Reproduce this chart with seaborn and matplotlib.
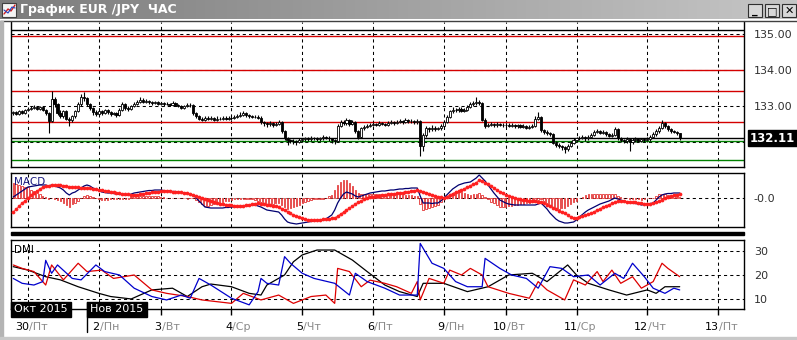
import numpy as np
import pandas as pd
import matplotlib
matplotlib.use("Agg")
import matplotlib.pyplot as plt
import seaborn as sns
from matplotlib.patches import Rectangle
from matplotlib.lines import Line2D
from matplotlib.colors import LinearSegmentedColormap

# ------------------------------------------------------------------ data
title = "График EUR /JPY  ЧАС"
day_start_bar = [5, 29, 50, 74, 98, 122, 146, 167, 191, 215, 239]
day_num = ["30", "2", "3", "4", "5", "6", "9", "10", "11", "12", "13"]
day_name = ["Пт", "Пн", "Вт", "Ср", "Чт", "Пт", "Пн", "Вт", "Ср", "Чт", "Пт"]
month_labels = ["Окт 2015", "Нов 2015"]

first_open = 132.80
close = [
    132.82, 132.78, 132.85, 132.80, 132.88,
    132.92, 132.95, 132.98, 132.93, 132.97, 132.90, 132.80, 132.58, 133.20, 133.05,
    132.80, 132.72, 132.85, 132.65, 132.60, 132.72, 132.85, 133.05, 133.25, 133.22,
    133.05, 132.95, 132.82, 132.78,
    132.85, 132.80, 132.88, 132.82, 132.78, 132.80, 132.76, 132.90, 133.05, 132.95,
    132.92, 133.00, 133.05, 133.12, 133.18, 133.12, 133.15, 133.10, 133.08, 133.10, 133.06,
    133.08, 133.05, 133.06, 133.04, 133.08, 133.02, 133.00, 132.95, 133.00, 133.04,
    133.02, 132.80, 132.72, 132.65, 132.62, 132.66, 132.64, 132.66, 132.62, 132.65,
    132.64, 132.66, 132.65, 132.68,
    132.66, 132.70, 132.72, 132.75, 132.80, 132.74, 132.72, 132.70, 132.70, 132.68,
    132.55, 132.52, 132.50, 132.52, 132.48, 132.50, 132.55, 132.30, 132.12, 132.05,
    132.03, 132.02, 132.00, 132.05,
    132.08, 132.10, 132.08, 132.12, 132.10, 132.08, 132.10, 132.14, 132.12, 132.10,
    132.05, 132.02, 132.45, 132.55, 132.52, 132.60, 132.50, 132.55, 132.30, 132.15,
    132.38, 132.42, 132.45, 132.48,
    132.50, 132.48, 132.52, 132.50, 132.48, 132.52, 132.55, 132.52, 132.56, 132.58,
    132.55, 132.60, 132.57, 132.58, 132.55, 132.58, 131.88, 132.20, 132.38, 132.35,
    132.40, 132.36, 132.38, 132.45,
    132.55, 132.70, 132.85, 132.90, 132.88, 132.92, 132.86, 132.90, 132.98, 133.05,
    133.08, 133.12, 133.08, 132.62, 132.45, 132.48, 132.50, 132.47, 132.50, 132.48,
    132.46,
    132.48, 132.45, 132.47, 132.44, 132.46, 132.42, 132.44, 132.40, 132.42, 132.45,
    132.65, 132.70, 132.32, 132.28, 132.25, 132.22, 131.98, 131.92, 131.88, 131.85,
    131.80, 131.90, 131.98, 132.05,
    132.10, 132.12, 132.15, 132.10, 132.14, 132.20, 132.28, 132.30, 132.25, 132.28,
    132.22, 132.18, 132.20, 132.35, 132.10, 132.05, 132.02, 132.08, 132.00, 132.05,
    132.08, 132.04, 132.07, 132.06,
    132.08, 132.15, 132.22, 132.30, 132.38, 132.52, 132.45, 132.35, 132.30, 132.28,
    132.24, 132.11,
]
high = [
    132.86, 132.85, 132.89, 132.88, 132.92,
    132.96, 132.99, 133.02, 133.01, 133.00, 132.99, 132.93, 132.83, 133.41, 133.25,
    133.08, 132.88, 132.90, 132.88, 132.70, 132.76, 132.90, 133.10, 133.32, 133.39,
    133.26, 133.08, 132.98, 132.88,
    132.90, 132.88, 132.92, 132.91, 132.85, 132.84, 132.84, 132.94, 133.10, 133.08,
    133.00, 133.04, 133.10, 133.18, 133.24, 133.21, 133.19, 133.18, 133.13, 133.14, 133.13,
    133.12, 133.11, 133.10, 133.09, 133.13, 133.10, 133.05, 133.03, 133.04, 133.09,
    133.08, 133.05, 132.83, 132.76, 132.70, 132.72, 132.71, 132.72, 132.70, 132.71,
    132.70, 132.72, 132.71, 132.73,
    132.72, 132.75, 132.77, 132.82, 132.86, 132.83, 132.78, 132.76, 132.75, 132.74,
    132.71, 132.59, 132.56, 132.57, 132.56, 132.56, 132.60, 132.58, 132.33, 132.15,
    132.09, 132.08, 132.06, 132.10,
    132.12, 132.14, 132.13, 132.16, 132.15, 132.13, 132.15, 132.19, 132.17, 132.16,
    132.12, 132.08, 132.50, 132.62, 132.60, 132.67, 132.64, 132.61, 132.58, 132.33,
    132.42, 132.47, 132.50, 132.53,
    132.55, 132.54, 132.57, 132.55, 132.54, 132.58, 132.60, 132.58, 132.62, 132.64,
    132.62, 132.66, 132.64, 132.64, 132.62, 132.64, 132.62, 132.26, 132.44, 132.43,
    132.46, 132.44, 132.43, 132.50,
    132.60, 132.76, 132.90, 132.96, 132.95, 132.98, 132.96, 132.95, 133.04, 133.12,
    133.15, 133.24, 133.18, 133.10, 132.66, 132.54, 132.55, 132.54, 132.55, 132.54,
    132.52,
    132.53, 132.52, 132.52, 132.51, 132.51, 132.49, 132.49, 132.47, 132.47, 132.50,
    132.71, 132.83, 132.73, 132.36, 132.32, 132.29, 132.25, 132.02, 131.96, 131.92,
    131.89, 131.95, 132.03, 132.10,
    132.15, 132.17, 132.20, 132.18, 132.19, 132.25, 132.33, 132.36, 132.33, 132.33,
    132.31, 132.25, 132.26, 132.42, 132.38, 132.14, 132.09, 132.14, 132.12, 132.10,
    132.13, 132.11, 132.12, 132.11,
    132.13, 132.20, 132.27, 132.35, 132.44, 132.62, 132.56, 132.48, 132.38, 132.34,
    132.31, 132.26,
]
low = [
    132.76, 132.74, 132.75, 132.77, 132.78,
    132.86, 132.89, 132.92, 132.90, 132.90, 132.86, 132.76, 132.25, 132.55, 132.98,
    132.74, 132.66, 132.68, 132.60, 132.44, 132.56, 132.68, 132.82, 133.00, 133.15,
    133.00, 132.88, 132.76, 132.72,
    132.74, 132.76, 132.77, 132.78, 132.72, 132.74, 132.70, 132.72, 132.86, 132.90,
    132.86, 132.88, 132.96, 133.02, 133.08, 133.08, 133.09, 133.06, 133.04, 133.05, 133.02,
    133.03, 133.01, 133.02, 133.00, 133.01, 132.99, 132.96, 132.92, 132.92, 132.97,
    132.98, 132.76, 132.66, 132.60, 132.58, 132.58, 132.60, 132.60, 132.58, 132.59,
    132.60, 132.61, 132.61, 132.62,
    132.62, 132.63, 132.67, 132.69, 132.72, 132.70, 132.68, 132.66, 132.66, 132.64,
    132.51, 132.44, 132.43, 132.45, 132.43, 132.44, 132.46, 132.26, 132.06, 131.93,
    131.97, 131.95, 131.93, 131.96,
    132.01, 132.04, 132.03, 132.04, 132.05, 132.03, 132.04, 132.06, 132.07, 132.04,
    131.98, 131.95, 132.00, 132.42, 132.46, 132.48, 132.45, 132.46, 132.24, 132.08,
    132.12, 132.34, 132.38, 132.41,
    132.44, 132.44, 132.45, 132.46, 132.44, 132.45, 132.49, 132.48, 132.49, 132.52,
    132.51, 132.52, 132.53, 132.53, 132.50, 132.50, 131.60, 131.76, 132.15, 132.28,
    132.30, 132.31, 132.32, 132.34,
    132.41, 132.52, 132.67, 132.80, 132.83, 132.84, 132.82, 132.82, 132.86, 132.94,
    133.01, 133.04, 133.03, 132.58, 132.40, 132.41, 132.44, 132.43, 132.43, 132.44,
    132.42,
    132.42, 132.41, 132.41, 132.40, 132.40, 132.38, 132.38, 132.36, 132.37, 132.38,
    132.42, 132.60, 132.28, 132.22, 132.20, 132.17, 131.94, 131.86, 131.83, 131.79,
    131.70, 131.76, 131.86, 131.94,
    132.01, 132.06, 132.08, 132.02, 132.06, 132.10, 132.16, 132.24, 132.21, 132.21,
    132.18, 132.13, 132.14, 132.17, 132.06, 131.99, 131.97, 131.97, 131.74, 131.95,
    132.00, 131.99, 132.00, 132.01,
    132.02, 132.04, 132.11, 132.18, 132.26, 132.35, 132.40, 132.31, 132.26, 132.24,
    132.20, 132.05,
]

macd = [
    0.01, 0.03, 0.05, 0.07, 0.09, 0.11, 0.115, 0.12, 0.125, 0.13,
    0.13, 0.13, 0.12, 0.13, 0.12, 0.11, 0.10, 0.08, 0.05, 0.03,
    0.05, 0.06, 0.08, 0.10, 0.12, 0.13, 0.12, 0.10, 0.09, 0.075,
    0.06, 0.055, 0.05, 0.05, 0.045, 0.04, 0.035, 0.035, 0.03, 0.03,
    0.04, 0.05, 0.055, 0.06, 0.065, 0.07, 0.075, 0.075, 0.08, 0.08,
    0.08, 0.075, 0.07, 0.07, 0.065, 0.065, 0.06, 0.055, 0.05, 0.045,
    0.04, 0.03, 0.0, -0.03, -0.06, -0.09, -0.095, -0.10, -0.10, -0.10,
    -0.10, -0.10, -0.095, -0.095, -0.09, -0.09, -0.09, -0.09, -0.085, -0.08,
    -0.075, -0.07, -0.07, -0.08, -0.09, -0.105, -0.12, -0.125, -0.13, -0.135,
    -0.14, -0.17, -0.21, -0.24, -0.25, -0.255, -0.26, -0.255, -0.25, -0.245,
    -0.24, -0.235, -0.23, -0.225, -0.225, -0.22, -0.21, -0.19, -0.17, -0.12,
    -0.05, 0.0, 0.04, 0.06, 0.05, 0.04, 0.02, 0.01, 0.02, 0.03,
    0.04, 0.05, 0.055, 0.06, 0.065, 0.07, 0.07, 0.075, 0.08, 0.08,
    0.085, 0.09, 0.09, 0.095, 0.095, 0.10, 0.10, 0.10, 0.02, -0.05,
    -0.05, -0.05, -0.055, -0.05, -0.05, -0.03, 0.0, 0.03, 0.06, 0.09,
    0.11, 0.13, 0.14, 0.15, 0.155, 0.16, 0.18, 0.20, 0.23, 0.20,
    0.17, 0.13, 0.09, 0.05, 0.015, -0.02, -0.035, -0.05, -0.06, -0.065,
    -0.07, -0.07, -0.07, -0.07, -0.07, -0.07, -0.07, -0.07, -0.06, -0.05,
    -0.08, -0.11, -0.15, -0.18, -0.21, -0.23, -0.24, -0.25, -0.25, -0.245,
    -0.24, -0.22, -0.19, -0.165, -0.14, -0.12, -0.105, -0.09, -0.075, -0.06,
    -0.05, -0.04, -0.03, -0.015, 0.0, -0.01, -0.02, -0.03, -0.04, -0.045,
    -0.05, -0.055, -0.06, -0.07, -0.065, -0.06, -0.055, -0.05, -0.02, 0.01,
    0.03, 0.04, 0.045, 0.045, 0.05, 0.05, 0.05,
]
signal = [
    -0.14, -0.11, -0.08, -0.05, -0.025, 0.0, 0.03, 0.05, 0.07, 0.09,
    0.11, 0.12, 0.125, 0.13, 0.13, 0.13, 0.13, 0.125, 0.12, 0.115,
    0.11, 0.108, 0.106, 0.104, 0.102, 0.10, 0.096, 0.092, 0.088, 0.084,
    0.08, 0.074, 0.068, 0.062, 0.056, 0.05, 0.047, 0.044, 0.041, 0.038,
    0.034, 0.03, 0.035, 0.04, 0.045, 0.05, 0.054, 0.058, 0.06, 0.063,
    0.066, 0.068, 0.07, 0.068, 0.065, 0.062, 0.06, 0.057, 0.054, 0.05,
    0.04, 0.03, 0.02, 0.01, 0.0, -0.01, -0.02, -0.03, -0.04, -0.05,
    -0.055, -0.06, -0.065, -0.07, -0.073, -0.076, -0.078, -0.08, -0.075, -0.07,
    -0.065, -0.06, -0.055, -0.05, -0.055, -0.06, -0.065, -0.07, -0.075, -0.082,
    -0.09, -0.105, -0.12, -0.135, -0.15, -0.17, -0.18, -0.19, -0.20, -0.21,
    -0.215, -0.22, -0.22, -0.218, -0.215, -0.212, -0.21, -0.207, -0.204, -0.20,
    -0.18, -0.16, -0.14, -0.12, -0.10, -0.08, -0.06, -0.04, -0.025, -0.01,
    0.0, 0.01, 0.015, 0.02, 0.025, 0.03, 0.035, 0.04, 0.042, 0.045,
    0.048, 0.05, 0.055, 0.06, 0.065, 0.07, 0.075, 0.08, 0.075, 0.065,
    0.055, 0.045, 0.035, 0.025, 0.015, 0.008, 0.0, 0.015, 0.03, 0.045,
    0.06, 0.07, 0.08, 0.095, 0.11, 0.125, 0.14, 0.155, 0.18, 0.17,
    0.155, 0.14, 0.125, 0.10, 0.08, 0.065, 0.05, 0.035, 0.02, 0.01,
    0.0, -0.005, -0.01, -0.015, -0.02, -0.025, -0.03, -0.033, -0.036, -0.04,
    -0.05, -0.065, -0.08, -0.095, -0.11, -0.125, -0.14, -0.15, -0.17, -0.185,
    -0.20, -0.195, -0.19, -0.18, -0.17, -0.16, -0.15, -0.135, -0.12, -0.105,
    -0.09, -0.078, -0.066, -0.054, -0.042, -0.03, -0.032, -0.034, -0.036, -0.038,
    -0.04, -0.044, -0.048, -0.052, -0.056, -0.06, -0.055, -0.05, -0.04, -0.03,
    -0.015, 0.0, 0.01, 0.02, 0.03, 0.035, 0.04,
]

adx_hour = [0, 5, 11, 16, 22, 29, 33, 40, 43, 47, 54, 59, 64, 67, 74, 80, 84, 86, 92, 95,
            98, 103, 109, 115, 120, 126, 131, 137, 139, 146, 154, 161, 168, 176, 181, 188,
            191, 195, 202, 208, 215, 218, 221, 226]
adx = [23.4, 22, 19.3, 18, 15.2, 12.5, 11.2, 10.2, 11.8, 13.9, 14.6, 11.2, 15.2, 16.3, 15.2,
       12.5, 11.8, 15.9, 20, 25.4, 28.2, 30.2, 30.2, 26.1, 21.4, 15.9, 13.2, 11.2, 16.6, 16.6,
       13.2, 15.2, 20, 20.7, 17.3, 24.1, 20, 16.6, 13.9, 11.8, 13.9, 12.5, 15.2, 15.2]
blue_hour = [0, 3, 7, 10, 11, 13, 15, 20, 23, 28, 31, 36, 41, 47, 52, 57, 60, 63, 67, 74,
             80, 83, 84, 86, 90, 92, 94, 98, 102, 109, 114, 116, 120, 126, 131, 137, 138, 142,
             146, 150, 154, 159, 160, 165, 169, 174, 178, 182, 186, 190, 195, 199, 204, 207,
             210, 214, 217, 221, 224, 226]
blue_di = [18.6, 16.6, 15.9, 17.3, 26, 20.7, 24.1, 18.6, 18, 24.1, 21.4, 20, 14.6, 11.2, 9.8,
           11.8, 10.5, 18.6, 15.9, 10.5, 7.8, 13.2, 18.6, 16.6, 15.9, 27.5, 24.8, 20.7, 18.6,
           16.6, 11.8, 20.7, 17.3, 14.6, 11.8, 11.8, 32.9, 24.8, 22.7, 17.3, 15.2, 15.2, 26.8,
           22.7, 20, 18.6, 14.6, 23.4, 22.7, 19.3, 20, 15.9, 20.7, 18.6, 24.8, 19.3, 14.6, 12.5,
           14.6, 13.9]
red_hour = [0, 3, 7, 11, 13, 17, 22, 25, 30, 34, 41, 47, 52, 59, 64, 69, 74, 78, 84, 90,
            95, 101, 106, 109, 110, 114, 118, 121, 126, 130, 135, 137, 138, 141, 146, 148, 152,
            155, 159, 161, 168, 175, 178, 181, 187, 190, 194, 198, 200, 203, 206, 210, 213, 217,
            220, 222, 226]
red_di = [24.1, 22.7, 21.4, 15.9, 24.1, 18, 24.8, 21.4, 22, 18.6, 20, 13.9, 12.5, 11.2, 9.8,
          9.1, 8.4, 12.5, 9.8, 11.8, 8.4, 11.2, 11.8, 8.4, 22.7, 21.4, 15.2, 17.9, 16.6, 15.2,
          12.5, 17.3, 9.8, 18.6, 16.6, 22, 20, 22.7, 20, 15.2, 12.5, 10.5, 17.3, 13.9, 9.8, 18,
          15.9, 21.4, 17.3, 22, 16.6, 19.3, 14.6, 17.3, 24.8, 22.7, 19.3]

price_ticks = [132.0, 133.0, 134.0, 135.0]
price_tick_labels = ["132.00", "133.00", "134.00", "135.00"]
top_level = 135.11
red_levels = [134.95, 134.0, 133.42, 132.56]
green_levels = [132.03, 131.5]
last_price = 132.11
macd_ticks = [0.0]
macd_tick_labels = ["-0.0"]
dmi_ticks = [10, 20, 30]

# ------------------------------------------------------------------ style
sns.set_style("white")
plt.rcParams['font.family'] = ['DejaVu Sans']

W, H = 797, 340
fig = plt.figure(figsize=(W / 100, H / 100), dpi=100)
fig.patch.set_facecolor('white')


def rect(l, t, r, b):
    return [l / W, 1 - b / H, (r - l) / W, (b - t) / H]


def fx(x):
    return x / W


def fy(y):
    return 1 - y / H


XLIM = (-0.77, 247.8)
DASH = (0, (3, 3))
RED = '#d40000'
GRID_KW = dict(color='black', lw=0.75, ls=DASH, zorder=1)


def base_axes(r, ylim):
    ax = fig.add_axes(r)
    ax.set_xlim(*XLIM)
    ax.set_ylim(*ylim)
    ax.set_facecolor('white')
    for s in ax.spines.values():
        s.set_color('black')
        s.set_linewidth(1.0)
    for b in day_start_bar:
        ax.axvline(b, **GRID_KW)
    ax.tick_params(axis='x', bottom=False, labelbottom=False)
    ax.yaxis.tick_right()
    ax.tick_params(axis='y', right=False, left=False, labelleft=False, labelright=True,
                   length=0, pad=7, labelsize=8, labelcolor='#303030')
    return ax


# ------------------------------------------------------------------ price panel
axp = base_axes(rect(11, 22, 744, 167), (131.306, 135.333))
axp.spines['top'].set_visible(False)
for t in price_ticks:
    axp.axhline(t, **GRID_KW)
axp.axhline(top_level, color='black', lw=1.0, zorder=2)
for lv in red_levels:
    axp.axhline(lv, color=RED, lw=1.0, zorder=2)
for lv in green_levels:
    axp.axhline(lv, color='#008000', lw=1.0, zorder=2)
axp.axhline(last_price, color='black', lw=1.0, zorder=2)

idx = np.arange(len(close))
c = np.array(close)
o = np.array([first_open] + close[:-1])
up = c >= o
axp.vlines(idx, low, high, color='black', lw=0.8, zorder=3)
axp.bar(idx[up], (c - o)[up], bottom=o[up], width=0.72, color='white',
        edgecolor='black', lw=0.6, zorder=4)
axp.bar(idx[~up], (o - c)[~up], bottom=c[~up], width=0.72, color='black',
        edgecolor='black', lw=0.6, zorder=4)
axp.set_yticks(price_ticks)
axp.set_yticklabels(price_tick_labels)
axp.text(1.008, last_price, "132.11", transform=axp.get_yaxis_transform(),
         ha='left', va='center', fontsize=8.5, fontweight='bold', color='white',
         bbox=dict(boxstyle='square,pad=0.12', fc='black', ec='black'), zorder=10,
         clip_on=False)

# ------------------------------------------------------------------ MACD panel
axm = base_axes(rect(11, 173, 744, 227), (-0.29, 0.25))
axm.axhline(0.0, **GRID_KW)
hist = np.array(macd) - np.array(signal)
axm.bar(idx, hist, width=0.5, color='white', edgecolor='#e02020', lw=0.55, zorder=2)
mdf = pd.DataFrame({'bar': idx, 'macd': macd, 'signal': signal})
sns.lineplot(data=mdf, x='bar', y='macd', ax=axm, color='#000070', lw=0.9,
             estimator=None, zorder=3)
sns.lineplot(data=mdf, x='bar', y='signal', ax=axm, color='#ff2020', lw=0.5,
             marker='o', markersize=2.7, markeredgewidth=0, estimator=None, zorder=4)
axm.set_xlim(*XLIM)
axm.set_xlabel('')
axm.set_ylabel('')
axm.set_yticks(macd_ticks)
axm.set_yticklabels(macd_tick_labels)
axm.text(0.004, 0.93, "MACD", transform=axm.transAxes, ha='left', va='top',
         fontsize=7.5, color='#1a1a80')

# ------------------------------------------------------------------ separator
fig.patches.append(Rectangle((fx(11), fy(235)), (744 - 11) / W, 2.6 / H,
                             transform=fig.transFigure, color='black', zorder=5))

# ------------------------------------------------------------------ DMI panel
axd = base_axes(rect(11, 240, 744, 309), (6.1, 34.3))
for t in dmi_ticks:
    axd.axhline(t, **GRID_KW)
sns.lineplot(x=adx_hour, y=adx, ax=axd, color='black', lw=0.9, estimator=None, zorder=3)
sns.lineplot(x=red_hour, y=red_di, ax=axd, color='#dd0000', lw=0.9, estimator=None, zorder=4)
sns.lineplot(x=blue_hour, y=blue_di, ax=axd, color='#0000cc', lw=0.9, estimator=None, zorder=5)
axd.set_xlim(*XLIM)
axd.set_ylim(6.1, 34.3)
axd.set_xlabel('')
axd.set_ylabel('')
axd.set_yticks(dmi_ticks)
axd.set_yticklabels([str(t) for t in dmi_ticks])
axd.set_xticks(day_start_bar)
axd.tick_params(axis='x', bottom=True, length=4, width=1, color='black',
                direction='out', labelbottom=False)
axd.text(0.004, 0.93, "DMI", transform=axd.transAxes, ha='left', va='top',
         fontsize=7.5, color='black')

# date labels
trans = axd.get_xaxis_transform()
for b, n, d in zip(day_start_bar, day_num, day_name):
    axd.text(b + 0.3, -0.26, n, transform=trans, ha='right', va='center',
             fontsize=8, color='black', clip_on=False)
    axd.text(b + 0.3, -0.26, "/" + d, transform=trans, ha='left', va='center',
             fontsize=8, color='#8a8a8a', clip_on=False)

# month boxes
for (l, r), lab in zip([(11, 71), (87, 147)], month_labels):
    fig.patches.append(Rectangle((fx(l), fy(317)), (r - l) / W, 15 / H,
                                 transform=fig.transFigure, color='black', zorder=20))
    fig.text(fx((l + r) / 2), fy(309.5), lab, ha='center', va='center', fontsize=8,
             color='white', zorder=21)
fig.lines.append(Line2D([fx(86.5), fx(86.5)], [fy(302), fy(332)], color='black',
                        lw=1.0, transform=fig.transFigure, zorder=22))

# ------------------------------------------------------------------ window chrome
tb = fig.add_axes([0, fy(19), 1, 19 / H])
grad = np.linspace(0, 1, 256)[None, :]
cmap = LinearSegmentedColormap.from_list('tb', ['#7c7c7c', '#c6c6c6'])
tb.imshow(grad, aspect='auto', cmap=cmap, extent=(0, 1, 0, 1))
tb.set_axis_off()
tb.text(20 / W, 0.5, title, transform=tb.transAxes, ha='left', va='center',
        fontsize=9, fontweight='bold', color='white')
# icon
fig.patches.append(Rectangle((fx(2), fy(17)), 14 / W, 14 / H, transform=fig.transFigure,
                             fc='#f4f4f4', ec='#404040', lw=0.8, zorder=30))
fig.lines.append(Line2D([fx(4), fx(8), fx(11), fx(15)], [fy(14), fy(9), fy(11), fy(5)],
                        color='#d02020', lw=1.0, transform=fig.transFigure, zorder=31))
fig.lines.append(Line2D([fx(4), fx(8), fx(12), fx(15)], [fy(10), fy(13), fy(7), fy(8)],
                        color='#2040c0', lw=0.8, transform=fig.transFigure, zorder=31))
# buttons
for l, glyph in [(748, '_'), (765, '□'), (782, '✕')]:
    fig.patches.append(Rectangle((fx(l), fy(17)), 14 / W, 13 / H, transform=fig.transFigure,
                                 fc='#d8d8d8', ec='#303030', lw=0.8, zorder=30))
    fig.text(fx(l + 7), fy(10.8), glyph, ha='center', va='center', fontsize=8,
             fontweight='bold', color='black', zorder=31)
fig.lines.append(Line2D([0, 1], [fy(21), fy(21)], color='#404040', lw=1.0,
                        transform=fig.transFigure, zorder=30))
# frame
fig.patches.append(Rectangle((0, 0), 3 / W, fy(21), transform=fig.transFigure,
                             color='#b4b4b4', zorder=30))
fig.patches.append(Rectangle((0, 0), 1, 3 / H, transform=fig.transFigure,
                             color='#c8c8c8', zorder=30))

fig.savefig('out.png', dpi=100, facecolor='white')
